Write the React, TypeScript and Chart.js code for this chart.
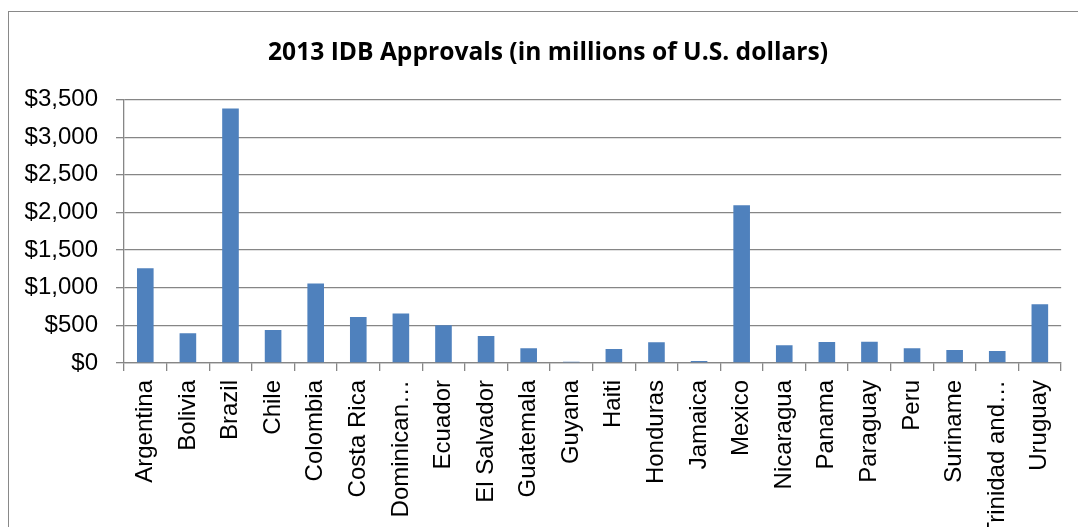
import React, { useEffect, useRef } from "react";
import { Chart, registerables } from "chart.js";

Chart.register(...registerables);

const countries = [
  "Argentina", "Bolivia", "Brazil", "Chile", "Colombia", "Costa Rica", "Dominican…",
  "Ecuador", "El Salvador", "Guatemala", "Guyana", "Haiti", "Honduras", "Jamaica",
  "Mexico", "Nicaragua", "Panama", "Paraguay", "Peru", "Suriname", "Trinidad and…", "Uruguay",
];
const approvals = [
  1260, 395, 3380, 440, 1055, 612, 656,
  502, 359, 195, 15, 186, 275, 25,
  2094, 235, 280, 283, 195, 173, 160, 781,
];
const yTicks = [0, 500, 1000, 1500, 2000, 2500, 3000, 3500];
const titleText = "2013 IDB Approvals (in millions of U.S. dollars)";

const GRID = "#868686";

export default function App() {
  const ref = useRef<HTMLCanvasElement | null>(null);
  useEffect(() => {
    if (!ref.current) return;
    const chart = new Chart(ref.current, {
      type: "bar",
      data: {
        labels: countries,
        datasets: [
          {
            data: approvals,
            backgroundColor: "#4F81BD",
            borderWidth: 0,
            barPercentage: 0.39,
            categoryPercentage: 1,
          },
        ],
      },
      options: {
        responsive: false,
        animation: false,
        devicePixelRatio: 1,
        layout: { padding: { left: 20, right: 2, top: 0, bottom: 0 } },
        plugins: {
          legend: { display: false },
          tooltip: { enabled: false },
          title: {
            display: true,
            text: titleText,
            color: "#000",
            font: { family: "Open Sans", size: 24.6, weight: "bold", lineHeight: 1.2 },
            padding: { top: 38, bottom: 32 },
          },
        },
        scales: {
          x: {
            offset: true,
            grid: {
              offset: true,
              drawOnChartArea: false,
              drawTicks: true,
              tickLength: 8,
              color: GRID,
              lineWidth: 1.3,
            },
            border: { display: true, color: GRID, width: 1.3 },
            ticks: {
              autoSkip: false,
              minRotation: 90,
              maxRotation: 90,
              padding: 9,
              color: "#000",
              font: { family: "Liberation Sans", size: 24 },
            },
            afterFit: (scale: any) => {
              scale.height = 527 - 363;
            },
          },
          y: {
            min: 0,
            max: 3500,
            afterBuildTicks: (scale: any) => {
              scale.ticks = yTicks.map((v) => ({ value: v }));
            },
            grid: {
              color: GRID,
              lineWidth: 1.3,
              drawTicks: true,
              tickLength: 8,
            },
            border: { display: true, color: GRID, width: 1.3 },
            ticks: {
              padding: 18,
              color: "#000",
              font: { family: "Liberation Sans", size: 24 },
              callback: (v: any) => "$" + Number(v).toLocaleString("en-US"),
            },
            afterFit: (scale: any) => {
              scale.width = 124 - 20;
            },
          },
          spacer: {
            type: "linear",
            position: "right",
            display: true,
            grid: { display: false, drawTicks: false },
            border: { display: false },
            ticks: { display: false },
            afterFit: (scale: any) => {
              scale.width = 1078 - 2 - 1062;
            },
          },
        },
      },
    });
    return () => chart.destroy();
  }, []);

  return (
    <div
      style={{
        position: "fixed",
        left: 0,
        top: 0,
        width: 1078,
        height: 527,
        overflow: "hidden",
        background: "#fff",
      }}
    >
      <div
        style={{
          position: "absolute",
          left: 8,
          top: 11,
          width: 1200,
          height: 700,
          border: "1px solid #898989",
          boxSizing: "border-box",
        }}
      />
      <canvas
        ref={ref}
        width={1078}
        height={527}
        style={{ position: "absolute", left: 0, top: 0, width: 1078, height: 527 }}
      />
    </div>
  );
}
